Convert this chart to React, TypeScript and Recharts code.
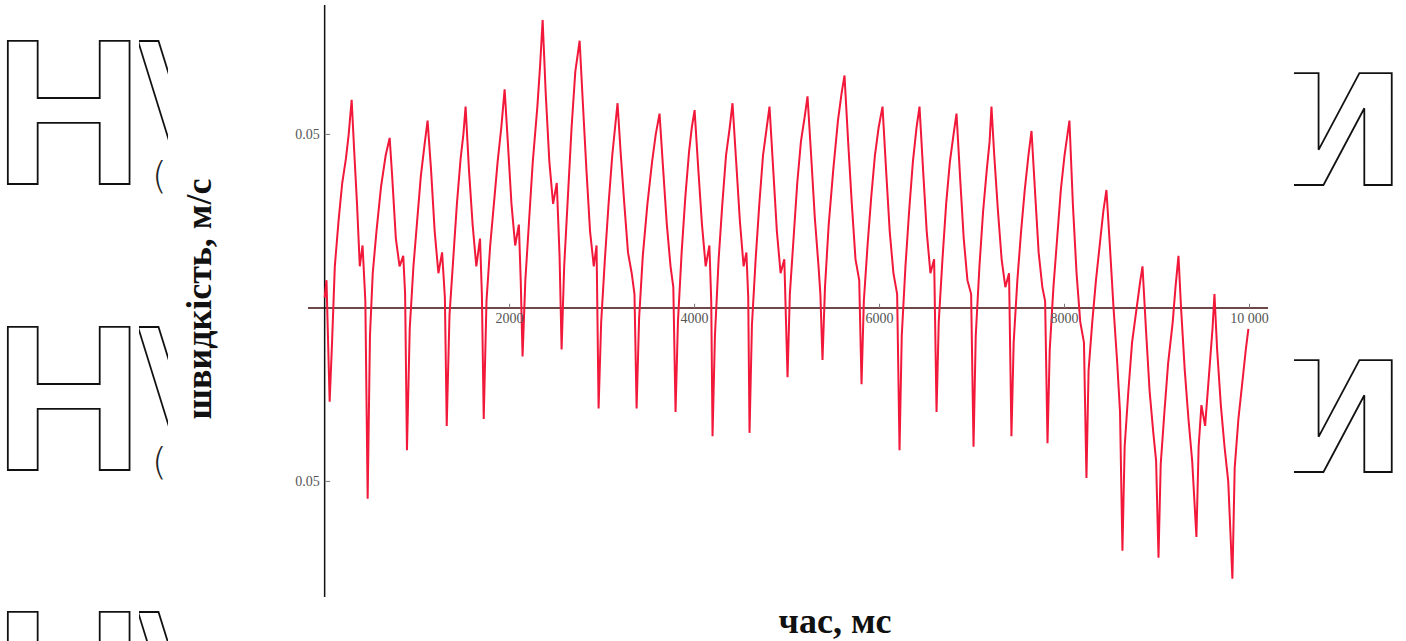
import React from 'react'
import { LineChart, Line, XAxis, YAxis, ReferenceLine } from 'recharts'

// time, ms
const timeMs = [
  0, 20, 54, 80, 110, 150, 190, 230, 260, 292, 320, 350, 380, 410, 440,
  465, 490, 520, 560, 610, 660, 703, 730, 770, 810, 850, 870,
  890, 920, 960, 1000, 1040, 1080, 1113, 1150, 1190, 1230, 1270, 1300,
  1320, 1350, 1390, 1430, 1470, 1500, 1524, 1560, 1600, 1640, 1680, 1700,
  1720, 1750, 1790, 1830, 1870, 1910, 1946, 1980, 2020, 2060, 2100, 2120,
  2140, 2170, 2210, 2250, 2300, 2330, 2357, 2390, 2430, 2470, 2510, 2540,
  2562, 2590, 2630, 2670, 2710, 2757, 2790, 2830, 2870, 2910, 2940,
  2962, 2990, 3030, 3070, 3110, 3140, 3167, 3200, 3240, 3280, 3320, 3350,
  3373, 3400, 3440, 3490, 3540, 3580, 3621, 3660, 3700, 3740, 3770,
  3794, 3820, 3860, 3900, 3940, 3970, 4000, 4040, 4080, 4120, 4160, 4180,
  4194, 4220, 4260, 4300, 4340, 4380, 4410, 4450, 4490, 4530, 4560, 4580,
  4594, 4620, 4660, 4700, 4740, 4780, 4810, 4850, 4890, 4930, 4970,
  5005, 5030, 5070, 5110, 5150, 5190, 5221, 5260, 5300, 5340, 5360,
  5383, 5410, 5450, 5500, 5550, 5590, 5621, 5660, 5700, 5740, 5780,
  5805, 5830, 5870, 5910, 5950, 5990, 6032, 6070, 6110, 6150, 6190,
  6216, 6240, 6280, 6320, 6360, 6400, 6432, 6470, 6510, 6550, 6590,
  6616, 6640, 6680, 6720, 6760, 6800, 6832, 6870, 6910, 6950, 6990,
  7016, 7040, 7080, 7120, 7160, 7190, 7210, 7240, 7280, 7320, 7360, 7400,
  7426, 7450, 7490, 7530, 7570, 7610, 7643, 7680, 7720, 7760, 7790,
  7816, 7840, 7880, 7920, 7960, 8000, 8053, 8090, 8130, 8170, 8210,
  8237, 8260, 8300, 8340, 8380, 8420, 8453, 8490, 8530, 8570, 8600,
  8626, 8650, 8690, 8730, 8780, 8820, 8843, 8880, 8920, 8960, 8990,
  9016, 9040, 9080, 9120, 9170, 9200, 9232, 9260, 9300, 9340, 9380,
  9426, 9450, 9480, 9520, 9560, 9600, 9621, 9650, 9690, 9730, 9770,
  9815, 9840, 9880, 9920, 9960, 9988,
]

// speed, m/s
const speed = [
  0.003, 0.008, -0.027, -0.01, 0.012, 0.025, 0.036, 0.043, 0.05, 0.06, 0.045, 0.03, 0.012, 0.018, 0.002,
  -0.055, -0.008, 0.01, 0.022, 0.035, 0.044, 0.049, 0.038, 0.02, 0.012, 0.015, 0.004,
  -0.041, -0.006, 0.012, 0.025, 0.038, 0.047, 0.054, 0.04, 0.022, 0.01, 0.016, 0.003,
  -0.034, -0.002, 0.014, 0.03, 0.043, 0.05, 0.058, 0.04, 0.024, 0.012, 0.02, 0.004,
  -0.032, 0.002, 0.018, 0.03, 0.042, 0.052, 0.063, 0.048, 0.03, 0.018, 0.024, 0.008,
  -0.014, 0.008, 0.025, 0.042, 0.058, 0.07, 0.083, 0.062, 0.042, 0.03, 0.036, 0.015,
  -0.012, 0.012, 0.032, 0.052, 0.068, 0.077, 0.06, 0.04, 0.022, 0.012, 0.018,
  -0.029, -0.004, 0.014, 0.03, 0.044, 0.052, 0.059, 0.045, 0.03, 0.016, 0.01, 0.004,
  -0.029, -0.003, 0.015, 0.03, 0.042, 0.05, 0.056, 0.04, 0.024, 0.012, 0.006,
  -0.03, -0.004, 0.016, 0.032, 0.045, 0.052, 0.057, 0.04, 0.024, 0.012, 0.018, 0.002,
  -0.037, -0.008, 0.014, 0.03, 0.044, 0.052, 0.059, 0.042, 0.025, 0.012, 0.016, 0.003,
  -0.036, -0.005, 0.014, 0.03, 0.044, 0.052, 0.058, 0.04, 0.022, 0.01, 0.014,
  -0.02, 0.004, 0.02, 0.036, 0.048, 0.055, 0.061, 0.044, 0.026, 0.012, 0.004,
  -0.015, 0.006, 0.024, 0.04, 0.054, 0.062, 0.067, 0.048, 0.03, 0.014, 0.008,
  -0.022, 0.002, 0.018, 0.032, 0.044, 0.052, 0.058, 0.04, 0.022, 0.01, 0.004,
  -0.041, -0.008, 0.012, 0.028, 0.042, 0.052, 0.058, 0.04, 0.022, 0.01, 0.014,
  -0.03, -0.004, 0.014, 0.03, 0.042, 0.05, 0.056, 0.038, 0.02, 0.008, 0.004,
  -0.04, -0.008, 0.012, 0.028, 0.04, 0.048, 0.058, 0.044, 0.028, 0.014, 0.006, 0.01,
  -0.037, -0.01, 0.008, 0.022, 0.034, 0.044, 0.051, 0.034, 0.016, 0.006, 0.002,
  -0.039, -0.012, 0.006, 0.02, 0.034, 0.044, 0.054, 0.03, 0.01, -0.004, -0.01,
  -0.049, -0.018, -0.004, 0.008, 0.018, 0.028, 0.034, 0.018, 0.0, -0.016, -0.03,
  -0.07, -0.04, -0.024, -0.01, 0.0, 0.008, 0.012, -0.006, -0.024, -0.036, -0.044,
  -0.072, -0.045, -0.03, -0.016, -0.004, 0.006, 0.015, 0.0, -0.018, -0.032, -0.044,
  -0.066, -0.04, -0.028, -0.034, -0.02, -0.006, 0.004, -0.012, -0.028, -0.04, -0.05,
  -0.078, -0.046, -0.032, -0.022, -0.012, -0.006,
]

const xTicks = [2000, 4000, 6000, 8000, 10000]
const xTickLabels = ['2000', '4000', '6000', '8000', '10 000']
const yTicks = [0.05, -0.05]
const yTickLabels = ['0.05', '0.05']

const data = timeMs.map((t, i) => ({ t, v: speed[i] }))

const TICK_LABEL = { fill: '#555', fontSize: 14, fontFamily: 'Liberation Serif' }
const TITLE_FONT = 'Liberation Serif'

// large outlined letters of the scanned page around the figure
function PageGlyphs() {
  const rows = [184, 470, 755]
  return (
    <svg width={1406} height={641} style={{ position: 'absolute', left: 0, top: 0 }}>
      <defs>
        <clipPath id="slashClip">
          <rect x={139} y={0} width={29} height={641} />
        </clipPath>
        <clipPath id="iClip">
          <rect x={1294} y={0} width={112} height={641} />
        </clipPath>
      </defs>
      {rows.map(b => (
        <g key={b}>
          <text x={-6} y={b} fontFamily="Liberation Sans" fontWeight="bold" fontSize={207} fill="none" stroke="#111" strokeWidth={1.8}>
            Н
          </text>
          <text x={138} y={b - 4} fontFamily="DejaVu Sans" fontWeight="bold" fontSize={190} fill="none" stroke="#111" strokeWidth={1.8} clipPath="url(#slashClip)">
            \
          </text>
          <text x={152} y={b + 4} fontFamily="DejaVu Sans" fontWeight={200} fontSize={38} fill="#222">
            (
          </text>
        </g>
      ))}
      {[185, 472].map(b => (
        <text key={b} x={1406} y={b} textAnchor="end" fontFamily="DejaVu Sans" fontWeight="bold" fontSize={154} fill="none" stroke="#111" strokeWidth={1.8} clipPath="url(#iClip)">
          И
        </text>
      ))}
      <text x={211} y={299} transform="rotate(-90, 211, 299)" textAnchor="middle" fontFamily={TITLE_FONT} fontWeight="bold" fontSize={36} fill="#111">
        швидкість, м/с
      </text>
      <text x={835} y={633} textAnchor="middle" fontFamily={TITLE_FONT} fontWeight="bold" fontSize={36} fill="#111">
        час, мс
      </text>
    </svg>
  )
}

export default function App() {
  return (
    <div style={{ position: 'absolute', left: 0, top: 0, width: 1406, height: 641, background: '#fff', overflow: 'hidden' }}>
      <PageGlyphs />
      <div style={{ position: 'absolute', left: 0, top: 0 }}>
        <LineChart width={1406} height={641} data={data} margin={{ top: 5, right: 138, bottom: 44, left: 308 }}>
          <XAxis dataKey="t" type="number" domain={[-180, 10200]} hide />
          <YAxis type="number" domain={[-0.0833, 0.0873]} hide />
          <ReferenceLine y={0} stroke="#3d0b0b" strokeWidth={1.5} />
          <ReferenceLine x={0} stroke="#111" strokeWidth={1.5} />
          {xTicks.map((t, i) => (
            <ReferenceLine
              key={t}
              segment={[{ x: t, y: 0 }, { x: t, y: 0.0012 }]}
              stroke="#777"
              label={{ value: xTickLabels[i], position: 'bottom', ...TICK_LABEL }}
            />
          ))}
          {yTicks.map((v, i) => (
            <ReferenceLine
              key={v}
              segment={[{ x: 0, y: v }, { x: 60, y: v }]}
              stroke="#777"
              label={{ value: yTickLabels[i], position: 'left', ...TICK_LABEL }}
            />
          ))}
          <Line type="linear" dataKey="v" stroke="#f2183a" strokeWidth={2} dot={false} isAnimationActive={false} />
        </LineChart>
      </div>
    </div>
  )
}
